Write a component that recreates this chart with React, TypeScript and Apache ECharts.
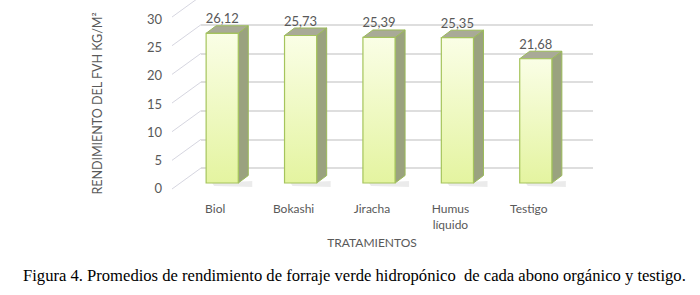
import React, { useEffect, useRef } from "react";
import * as echarts from "echarts";

const categories = ["Biol", "Bokashi", "Jiracha", "Humus\nlíquido", "Testigo"];
const values = [26.12, 25.73, 25.39, 25.35, 21.68];
const valueLabels = ["26,12", "25,73", "25,39", "25,35", "21,68"];
const tickValues = [0, 5, 10, 15, 20, 25, 30];

const FONT = "Lato";
const DEPTH_X = 10;
const DEPTH_Y = -7.5;
const FRONT_SHIFT_X = -18;
const FRONT_SHIFT_Y = 15;

export default function App() {
  const ref = useRef<HTMLDivElement>(null);
  useEffect(() => {
    const chart = echarts.init(ref.current!, null, { renderer: "svg" });
    const frontGrad = new echarts.graphic.LinearGradient(0, 0, 0, 1, [
      { offset: 0, color: "#fafee6" },
      { offset: 1, color: "#e4f4a0" },
    ]);
    chart.setOption({
      animation: false,
      title: {
        text: "Figura 4. Promedios de rendimiento de forraje verde hidropónico  de cada abono orgánico y testigo.",
        left: 18,
        top: 262,
        textStyle: { fontFamily: "Liberation Serif", fontSize: 16.6, fontWeight: "normal", color: "#000" },
      },
      grid: [
        { left: 201, width: 392, top: 24.7, height: 143.3 },
        { left: 176, width: 392, top: 19, height: 169 },
      ],
      xAxis: [
        { type: "category", gridIndex: 0, data: categories, show: false },
        {
          type: "category",
          gridIndex: 1,
          data: categories,
          axisLine: { show: false },
          axisTick: { show: false },
          axisLabel: { margin: 12, color: "#595959", fontFamily: FONT, fontSize: 12, lineHeight: 16 },
          name: "TRATAMIENTOS",
          nameLocation: "middle",
          nameGap: 42,
          nameTextStyle: { color: "#595959", fontFamily: FONT, fontSize: 12 },
        },
      ],
      yAxis: [
        {
          type: "value",
          gridIndex: 0,
          min: 0,
          max: 25,
          interval: 5,
          axisLine: { show: false },
          axisTick: { show: false },
          axisLabel: { show: false },
          splitLine: { lineStyle: { color: "#d3d3d3", width: 1.5 } },
        },
        {
          type: "value",
          gridIndex: 1,
          min: 0,
          max: 30,
          interval: 5,
          axisLine: { show: false },
          axisTick: { show: false },
          splitLine: { show: false },
          axisLabel: { margin: 14, color: "#595959", fontFamily: FONT, fontSize: 13 },
          name: "RENDIMIENTO DEL FVH KG/M²",
          nameLocation: "middle",
          nameGap: 72,
          nameTextStyle: { color: "#595959", fontFamily: FONT, fontSize: 12.5 },
        },
      ],
      series: [
        {
          type: "custom",
          xAxisIndex: 0,
          yAxisIndex: 0,
          data: tickValues.map((v) => [0, v]),
          silent: true,
          renderItem: (params: any, api: any) => {
            const p = api.coord([0, api.value(1)]);
            const band = api.size([1, 0])[0];
            const x0 = p[0] - band / 2;
            return {
              type: "line",
              shape: { x1: x0, y1: p[1], x2: x0 - 29, y2: p[1] + 21 },
              style: { stroke: "#d6d6e0", lineWidth: 1 },
            };
          },
        },
        {
          type: "custom",
          xAxisIndex: 0,
          yAxisIndex: 0,
          data: values.map((v, i) => [i, v]),
          renderItem: (params: any, api: any) => {
            const i = api.value(0);
            const base = api.coord([i, 0]);
            const top = api.coord([i, api.value(1)]);
            const band = api.size([1, 0])[0];
            const w = band * 0.41;
            const cx = base[0] + FRONT_SHIFT_X;
            const l = cx - w / 2;
            const r = cx + w / 2;
            const yt = top[1] + FRONT_SHIFT_Y;
            const yb = base[1] + FRONT_SHIFT_Y;
            return {
              type: "group",
              children: [
                {
                  type: "polygon",
                  shape: { points: [[l + 6, yb], [r + 14, yb - 2], [r + 14, yb + 4], [l + 8, yb + 3]] },
                  style: { fill: "rgba(0,0,0,0.08)" },
                },
                {
                  type: "polygon",
                  shape: { points: [[r, yt], [r + DEPTH_X, yt + DEPTH_Y], [r + DEPTH_X, yb + DEPTH_Y], [r, yb]] },
                  style: { fill: "#9aa27f", stroke: "#9bbb59", lineWidth: 1 },
                },
                {
                  type: "polygon",
                  shape: { points: [[l, yt], [r, yt], [r + DEPTH_X, yt + DEPTH_Y], [l + DEPTH_X, yt + DEPTH_Y]] },
                  style: { fill: "#a9aa97", stroke: "#9bbb59", lineWidth: 1 },
                },
                {
                  type: "rect",
                  shape: { x: l, y: yt, width: w, height: yb - yt },
                  style: { fill: frontGrad, stroke: "#a5c45c", lineWidth: 1.2 },
                },
                {
                  type: "text",
                  style: {
                    text: valueLabels[i],
                    x: cx,
                    y: yt + DEPTH_Y - 1,
                    align: "center",
                    verticalAlign: "bottom",
                    fill: "#595959",
                    fontFamily: FONT,
                    fontSize: 13,
                  },
                },
              ],
            };
          },
        },
      ],
    });
    return () => chart.dispose();
  }, []);
  return (
    <div
      ref={ref}
      style={{ position: "fixed", left: 0, top: 0, width: 700, height: 295, background: "#fff" }}
    />
  );
}
